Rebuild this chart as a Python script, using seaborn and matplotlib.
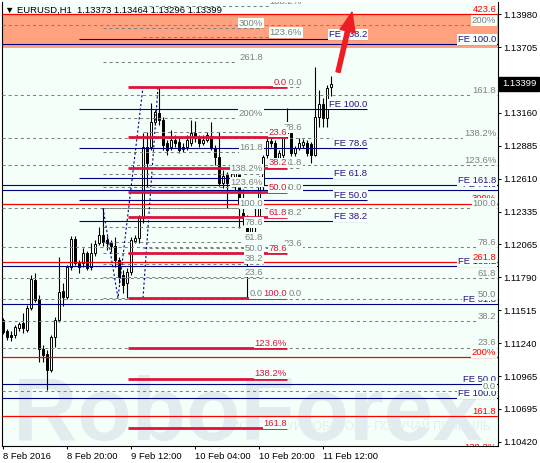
import matplotlib
matplotlib.use("Agg")
import matplotlib.pyplot as plt
import matplotlib.transforms as mtransforms
import numpy as np
import pandas as pd
import seaborn as sns

sns.set_style("white")
plt.rcParams["font.family"] = ["Liberation Sans", "DejaVu Sans"]
plt.rcParams["lines.scale_dashes"] = False

# ---------------- data ----------------
date_labels = ["8 Feb 2016", "8 Feb 20:00", "9 Feb 12:00", "10 Feb 04:00", "10 Feb 20:00", "11 Feb 12:00"]
date_pos = [0, 16, 32, 48, 64, 80]

opens = [1.11434, 1.11343, 1.11309, 1.11309, 1.11368, 1.11409, 1.11351, 1.11534, 1.11767, 1.11609,
         1.11193, 1.11151, 1.11018, 1.11293, 1.11434, 1.11675, 1.11626, 1.11875, 1.12108, 1.11908,
         1.11908, 1.11992, 1.11875, 1.11992, 1.12075, 1.12141, 1.12100, 1.12075, 1.12050, 1.11933,
         1.11809, 1.11742, 1.11834, 1.12091, 1.12116, 1.12283, 1.12874, 1.12874, 1.13082, 1.13156,
         1.13098, 1.12907, 1.12874, 1.12932, 1.12915, 1.12857, 1.12874, 1.12907, 1.12990, 1.12948,
         1.12907, 1.12932, 1.12965, 1.12865, 1.12790, 1.12574, 1.12641, 1.12582, 1.12557, 1.12682,
         1.12324, 1.12283, 1.11958, 1.12208, 1.12283, 1.12557, 1.12807, 1.12923, 1.12907, 1.12782,
         1.12807, 1.13023, 1.12990, 1.12824, 1.12865, 1.12890, 1.12907, 1.12898, 1.12807, 1.13123,
         1.13231, 1.13115, 1.13373]
highs = [1.11451, 1.11359, 1.11343, 1.11393, 1.11418, 1.11492, 1.11559, 1.11809, 1.11825, 1.11642,
         1.11226, 1.11185, 1.11309, 1.11459, 1.11958, 1.11742, 1.11892, 1.12133, 1.12133, 1.11933,
         1.12033, 1.12008, 1.12075, 1.12100, 1.12208, 1.12366, 1.12133, 1.12100, 1.12125, 1.11958,
         1.11850, 1.11867, 1.12125, 1.12141, 1.12308, 1.12990, 1.12998, 1.13240, 1.13181, 1.13373,
         1.13123, 1.12932, 1.13015, 1.12973, 1.12948, 1.12907, 1.12973, 1.13098, 1.13090, 1.12973,
         1.12973, 1.12998, 1.13082, 1.12890, 1.12998, 1.12682, 1.12666, 1.12657, 1.12707, 1.12699,
         1.12524, 1.12308, 1.12250, 1.12366, 1.12632, 1.12807, 1.12948, 1.12973, 1.12932, 1.12849,
         1.13015, 1.13198, 1.13015, 1.12882, 1.12948, 1.12940, 1.12932, 1.12915, 1.13539, 1.13348,
         1.13281, 1.13389, 1.13464]
lows = [1.11318, 1.11268, 1.11259, 1.11284, 1.11343, 1.11326, 1.11334, 1.11517, 1.11584, 1.11085,
        1.11085, 1.10852, 1.11002, 1.11210, 1.11418, 1.11551, 1.11609, 1.11850, 1.11892, 1.11825,
        1.11875, 1.11850, 1.11850, 1.11967, 1.12058, 1.12050, 1.12017, 1.12000, 1.11875, 1.11742,
        1.11659, 1.11617, 1.11809, 1.12075, 1.12075, 1.12241, 1.12541, 1.12849, 1.13057, 1.13057,
        1.12849, 1.12807, 1.12849, 1.12874, 1.12824, 1.12832, 1.12849, 1.12882, 1.12915, 1.12874,
        1.12890, 1.12915, 1.12849, 1.12724, 1.12549, 1.12532, 1.12366, 1.12557, 1.12516, 1.12200,
        1.12225, 1.11609, 1.11917, 1.12166, 1.12258, 1.12516, 1.12782, 1.12874, 1.12765, 1.12765,
        1.12782, 1.12948, 1.12799, 1.12799, 1.12849, 1.12865, 1.12799, 1.12740, 1.12799, 1.13040,
        1.13040, 1.13040, 1.13296]
closes = [1.11334, 1.11293, 1.11293, 1.11376, 1.11401, 1.11368, 1.11534, 1.11775, 1.11601, 1.11193,
          1.11143, 1.11018, 1.11293, 1.11434, 1.11667, 1.11626, 1.11875, 1.12108, 1.11908, 1.11875,
          1.11992, 1.11867, 1.11992, 1.12066, 1.12141, 1.12083, 1.12075, 1.12050, 1.11933, 1.11792,
          1.11725, 1.11834, 1.12100, 1.12116, 1.12283, 1.12874, 1.12740, 1.13082, 1.13165, 1.13098,
          1.12890, 1.12849, 1.12932, 1.12907, 1.12849, 1.12874, 1.12932, 1.12990, 1.12948, 1.12907,
          1.12932, 1.12973, 1.12865, 1.12790, 1.12574, 1.12632, 1.12574, 1.12599, 1.12682, 1.12408,
          1.12283, 1.11958, 1.12208, 1.12283, 1.12599, 1.12790, 1.12923, 1.12907, 1.12782, 1.12824,
          1.12998, 1.12990, 1.12824, 1.12865, 1.12907, 1.12915, 1.12824, 1.12807, 1.13123, 1.13231,
          1.13115, 1.13364, 1.13399]

price_ticks = [1.10420, 1.10695, 1.10965, 1.11240, 1.11515, 1.11790, 1.12065,
               1.12335, 1.12610, 1.12885, 1.13160, 1.13435, 1.13705, 1.13980]
title_text = "\u25bc EURUSD,H1  1.13373 1.13464 1.13296 1.13399"
last_price = 1.13399
band_low, band_high = 1.13700, 1.13980

# Fibonacci tools: (price at level 0, price at level 100, levels, labels)
fib1_anchor = (1.10845, 1.12366)
fib1_levels = [0, 23.6, 38.2, 50, 61.8, 78.6, 100, 123.6, 138.2, 161.8, 200]
fib1_labels = ["0.0", "23.6", "38.2", "50.0", "61.8", "78.6", "100.0", "123.6%", "138.2%", "161.8", "200%"]

fib2_anchor = (1.11617, 1.12366)
fib2_levels = [0, 23.6, 38.2, 50, 61.8, 78.6, 100, 123.6, 138.2, 161.8, 200, 261.8, 300]
fib2_labels = ["0.0", "23.6", "38.2", "50.0", "61.8", "78.6", "100.0", "123.6%", "138.2%", "161.8", "200%", "261.8", "300%"]

fib3_anchor = (1.11617, 1.13373)
fib3_levels = [0, 23.6, 38.2, 50, 61.8, 78.6, 100, 123.6, 138.2]
fib3_labels = ["0.0", "23.6", "38.2", "50.0", "61.8", "78.6", "100.0", "123.6%", "138.2%"]

fib4_anchor = (1.13373, 1.11617)
fib4_levels = [0, 23.6, 38.2, 50, 61.8, 78.6, 100, 123.6, 138.2, 161.8]
fib4_labels = ["0.0", "23.6", "38.2", "50.0", "61.8", "78.6", "100.0", "123.6%", "138.2%", "161.8"]

fe1_anchor = (1.11676, 1.13190)
fe1_levels = [38.2, 50, 61.8, 78.6, 100, 138.2]
fe1_labels = ["FE 38.2", "FE 50.0", "FE 61.8", "FE 78.6", "FE 100.0", "FE 138.2"]

fe2_anchor = (1.08074, 1.13730)
fe2_levels = [50, 61.8, 78.6, 100]
fe2_labels = ["FE 50.0", "FE 61.8", "FE 78.6", "FE 100.0"]

fe3_anchor = (1.07918, 1.10785)
fe3_levels = [100, 138.2, 161.8]
fe3_labels = ["FE 100.0", "FE 138.2", "FE 161.8"]

fib5_anchor = (1.08568, 1.09846)
fib5_levels = [138.2, 161.8, 200, 261.8, 300, 423.6]
fib5_labels = ["138.2%", "161.8", "200%", "261.8", "300%", "423.6"]

# zig-zag (expansion connectors), bar index / price
zig1_bar = [25, 28.75, 35]
zig1_price = [1.12366, 1.11617, 1.13373]
zig2_bar = [35, 38.75]
zig2_price = [1.11617, 1.13373]

arrow_from = (83.75, 1.13497)
arrow_to = (87.25, 1.13995)

# ---------------- style ----------------
BG = "#F4FFF9"
GRAY = "#808080"
NAVY = "#000080"
FE_TXT = "#2E1080"
RED = "#FF0000"
CRIMSON = "#DC143C"
WM = "#E2ECEE"
FS = 6.8

fig = plt.figure(figsize=(5.4, 4.63), dpi=100)
ax = fig.add_axes([2 / 540, 17 / 463, 496 / 540, 444 / 463])
ax.set_facecolor(BG)
XMIN, XMAX = -0.25, 123.75
ax.set_xlim(XMIN, XMAX)
ax.set_ylim(1.103858, 1.140799)

# orange band
ax.axhspan(band_low, band_high, color="#FFA27F", lw=0, zorder=0.5)

# watermark
ax.text(0.022, 0.014, "RoboForex", transform=ax.transAxes, ha="left", va="baseline",
        fontsize=64, fontweight="bold", color=WM, family=["Liberation Sans"], zorder=0.6)
ax.text(0.723, 0.042, "ИСПОЛЬЗУЙ РОБОТОВ – ПОЛУЧАЙ ПРИБЫЛЬ", transform=ax.transAxes,
        ha="center", va="center", fontsize=8.3, color=WM, zorder=0.6)

# candles
df = pd.DataFrame(dict(o=opens, h=highs, l=lows, c=closes))
df["x"] = np.arange(len(df))
up = df.c >= df.o
ax.vlines(df.x, df.l, df.h, color="black", lw=0.8, zorder=2)
ax.bar(df.x, (df.c - df.o).abs().clip(lower=0.00004), bottom=df[["o", "c"]].min(axis=1),
       width=0.5, color=np.where(up, "white", "black"), edgecolor="black", linewidth=0.7, zorder=2.2)

label_off = mtransforms.ScaledTranslation(0, 1.6 / 72, fig.dpi_scale_trans)


def draw_fib(anchor, levels, labels, x0, x1, lx, lcolor, tcolor, lw, ls, lz=3):
    p0, p100 = anchor
    prices = [p0 + (p100 - p0) * lv / 100.0 for lv in levels]
    ax.hlines(prices, x0, x1, colors=lcolor, lw=lw, linestyles=ls, zorder=lz)
    return prices, labels, lx, tcolor


def draw_labels(spec):
    prices, labels, lx, tcolor = spec
    for p, t in zip(prices, labels):
        ax.text(lx, p, t, ha="right", va="baseline", fontsize=FS, color=tcolor,
                transform=ax.transData + label_off, clip_on=True, zorder=5,
                bbox=dict(boxstyle="square,pad=0.08", fc=BG, ec="none"))


DASH = (0, (2.2, 2.2))
s2 = draw_fib(fib2_anchor, fib2_levels, fib2_labels, 25, 65, 65, GRAY, GRAY, 0.75, DASH)
s3 = draw_fib(fib3_anchor, fib3_levels, fib3_labels, 35, 74.75, 74.75, GRAY, GRAY, 0.75, DASH)
s1 = draw_fib(fib1_anchor, fib1_levels, fib1_labels, XMIN, XMAX, 123.3, GRAY, GRAY, 0.75, DASH)
s5 = draw_fib(fe1_anchor, fe1_levels, fe1_labels, 19, 91, 91, NAVY, FE_TXT, 0.8, "solid")
s6 = draw_fib(fe2_anchor, fe2_levels, fe2_labels, XMIN, XMAX, 123.3, NAVY, FE_TXT, 0.8, "solid")
s7 = draw_fib(fe3_anchor, fe3_levels, fe3_labels, XMIN, XMAX, 123.3, NAVY, FE_TXT, 0.8, "solid")
s8 = draw_fib(fib5_anchor, fib5_levels, fib5_labels, XMIN, XMAX, 123.3, RED, RED, 0.9, "solid")
s4 = draw_fib(fib4_anchor, fib4_levels, fib4_labels, 31.25, 71, 71, CRIMSON, CRIMSON, 2.0, "solid", lz=3.5)

for s in (s2, s3, s4, s5, s6, s7, s8, s1):
    draw_labels(s)

# zig-zag dotted connectors
for bx, by in ((zig1_bar, zig1_price), (zig2_bar, zig2_price)):
    sns.lineplot(x=bx, y=by, sort=False, estimator=None, ax=ax, color=NAVY, lw=0.8,
                 linestyle=(0, (1.6, 1.6)), zorder=3.2)

# red arrow
ax.annotate("", xy=arrow_to, xytext=arrow_from,
            arrowprops=dict(width=3.0, headwidth=11, headlength=14, color="#EE1C25", shrink=0),
            zorder=6)

# title
ax.text(3 / 496, 1 - 8 / 444, title_text, transform=ax.transAxes, ha="left", va="center",
        fontsize=FS, color="black", zorder=6)

# current price box
blend = mtransforms.blended_transform_factory(ax.transAxes, ax.transData)
ax.text(1.0 + 4 / 496, last_price, "1.13399", transform=blend, ha="left", va="center",
        fontsize=FS, color="white", clip_on=False, zorder=10,
        bbox=dict(boxstyle="square,pad=0.3", fc="black", ec="black"))

# axes
for side in ("left", "bottom", "right"):
    ax.spines[side].set_visible(True)
    ax.spines[side].set_color("black")
    ax.spines[side].set_linewidth(0.8)
ax.spines["top"].set_visible(False)

ax.yaxis.tick_right()
ax.set_yticks(price_ticks)
ax.set_yticklabels([f"{p:.5f}" for p in price_ticks])
ax.tick_params(axis="y", right=True, left=False, length=2.5, width=0.7, pad=1.5,
               labelsize=FS, colors="black", direction="out")
ax.set_xticks(date_pos)
ax.set_xticklabels(date_labels)
ax.tick_params(axis="x", bottom=True, length=2.5, width=0.7, pad=1.5, labelsize=FS,
               colors="black", direction="out")
for t in ax.get_xticklabels():
    t.set_ha("left")
ax.set_xlabel("")
ax.set_ylabel("")
if ax.get_legend() is not None:
    ax.get_legend().remove()

fig.savefig("out.png", dpi=100, facecolor="white")
